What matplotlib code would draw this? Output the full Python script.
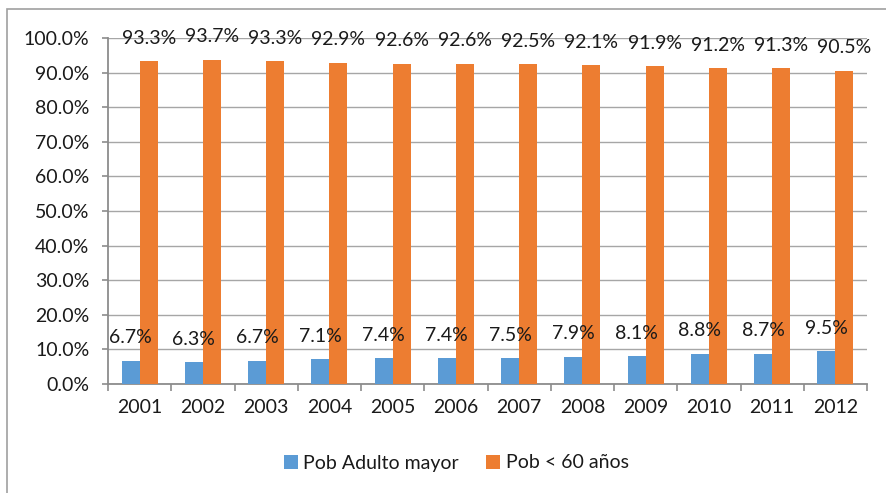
import matplotlib.pyplot as plt
import numpy as np
from matplotlib.patches import Rectangle

plt.rcParams['font.family'] = ['Lato', 'DejaVu Sans']

years = ['2001', '2002', '2003', '2004', '2005', '2006',
         '2007', '2008', '2009', '2010', '2011', '2012']
adulto_mayor = [6.7, 6.3, 6.7, 7.1, 7.4, 7.4, 7.5, 7.9, 8.1, 8.8, 8.7, 9.5]
menor_60 = [93.3, 93.7, 93.3, 92.9, 92.6, 92.6, 92.5, 92.1, 91.9, 91.2, 91.3, 90.5]
series_names = ['Pob Adulto mayor', 'Pob < 60 años']

blue = '#5B9BD5'
orange = '#ED7D31'
axis_col = '#8C8C8C'
txt_col = '#1a1a1a'
fs = 14

fig = plt.figure(figsize=(8.86, 4.93), dpi=100)
ax = fig.add_axes([108 / 886, 1 - 384 / 493, (867 - 108) / 886, (384 - 38) / 493])

# outer chart border, running off the right and bottom edges
fig.patches.append(Rectangle((7 / 886, -0.1), 1.2, 1 - 9 / 493 + 0.1,
                             transform=fig.transFigure, fill=False,
                             edgecolor='#A0A0A0', lw=1.2))

x = np.arange(len(years))
w = 0.285
b1 = ax.bar(x - w / 2, adulto_mayor, w, color=blue, label=series_names[0], zorder=3)
b2 = ax.bar(x + w / 2, menor_60, w, color=orange, label=series_names[1], zorder=3)

for bars, vals in ((b1, adulto_mayor), (b2, menor_60)):
    for rect, v in zip(bars, vals):
        ax.annotate(f'{v:.1f}%', (rect.get_x() + rect.get_width() / 2, v),
                    xytext=(0, 16.5), textcoords='offset points',
                    ha='center', va='center', fontsize=fs, color=txt_col,
                    zorder=4)

ax.set_xlim(-0.5, len(years) - 0.5)
ax.set_ylim(0, 100)
ax.set_yticks(np.arange(0, 101, 10))
ax.set_yticklabels([f'{v:.1f}%' for v in np.arange(0, 101, 10)])
ax.set_xticks(x)
ax.set_xticklabels(years)
ax.set_xticks(np.arange(-0.5, len(years)), minor=True)

ax.yaxis.grid(True, color='#A6A6A6', lw=1, zorder=0)
for s in ('top', 'right'):
    ax.spines[s].set_visible(False)
for s in ('left', 'bottom'):
    ax.spines[s].set_color(axis_col)
    ax.spines[s].set_linewidth(1.3)

ax.tick_params(axis='x', which='major', length=0, pad=11, labelsize=fs, labelcolor=txt_col)
ax.tick_params(axis='x', which='minor', length=5, width=1.2, color=axis_col, direction='out')
ax.tick_params(axis='y', length=4.5, width=1.2, color=axis_col, pad=9, labelsize=fs,
               labelcolor=txt_col)

leg = fig.legend(handles=[b1, b2], loc='center', bbox_to_anchor=(0.515, 1 - 463 / 493),
                 ncol=2, frameon=False, fontsize=fs, handlelength=0.7, handleheight=0.7,
                 handletextpad=0.3, columnspacing=1.4)
for t in leg.get_texts():
    t.set_color(txt_col)

fig.savefig('out.png', dpi=100)
